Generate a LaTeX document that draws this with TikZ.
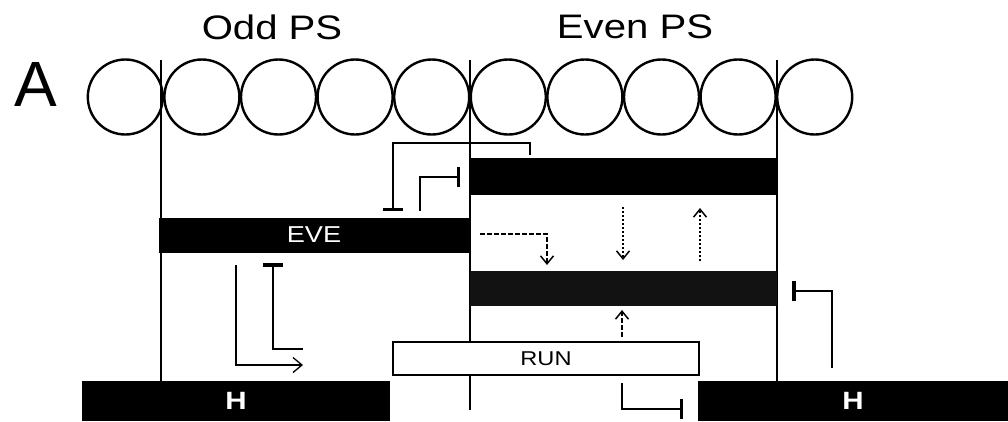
\documentclass[tikz,border=0pt]{standalone}
\usepackage{fontspec}
\setmainfont[FakeStretch=1.18]{Liberation Sans}
\newfontfamily\plainfont{Liberation Sans}
\usetikzlibrary{arrows.meta}
\tikzset{
  bead/.style={circle,draw,line width=2.4pt,minimum size=75pt,inner sep=0pt},
  guide/.style={line width=1.4pt},
  blackbar/.style={fill=black,draw=none,inner sep=0pt,text=white},
  graybar/.style={fill=black!93,draw=none,inner sep=0pt},
  openbar/.style={fill=white,draw=black,line width=2pt,inner sep=0pt},
  inh/.style={line width=2.6pt,-{Bar[width=20pt,line width=3.5pt]}},
  act/.style={line width=1.4pt,dash pattern=on 5pt off 2pt,-{Straight Barb[length=8pt,width=13pt,line width=1.5pt]}},
  dotact/.style={line width=1.2pt,dash pattern=on 2pt off 2pt,-{Straight Barb[length=8pt,width=13pt,line width=1.5pt]}},
  thinact/.style={line width=1.2pt,-{Straight Barb[length=9pt,width=15pt,line width=1.3pt]}},
  lbl/.style={font=\fontsize{34}{40}\selectfont,inner sep=0pt},
}
\begin{document}
\begin{tikzpicture}[x=1pt,y=-1pt]
\useasboundingbox (0,0) rectangle (1008,421);
% guide lines
\draw[guide] (161,60) coordinate (g1t) -- (161,381) coordinate (g1b);
\draw[guide] (470,60) coordinate (g2t) -- (470,410) coordinate (g2b);
\draw[guide] (777,60) coordinate (g3t) -- (777,382) coordinate (g3b);
% beads
\foreach \i in {0,...,9} {
  \node[bead] (c\i) at ({125.3+76.6*\i},97) {};
}
% labels
\node[lbl] (odd) at (272,27) {Odd PS};
\node[lbl] (evn) at (635,27) {Even PS};
\node[font=\plainfont\fontsize{64}{70}\selectfont,inner sep=0pt] (A) at (36,84) {A};
% bars
\node[blackbar,minimum width=307pt,minimum height=37pt] (even) at (623.5,176.5) {};
\node[blackbar,minimum width=310pt,minimum height=35pt,font=\fontsize{23}{26}\selectfont] (eve) at (314,235) {EVE};
\node[graybar,minimum width=307pt,minimum height=35pt] (gray) at (623.5,288.5) {};
\node[openbar,minimum width=306pt,minimum height=33pt,font=\fontsize{20}{24}\selectfont] (run) at (546,358.5) {RUN};
\node[blackbar,minimum width=308pt,minimum height=40pt,font=\bfseries\fontsize{25}{28}\selectfont] (hl) at (236,401) {H};
\node[blackbar,minimum width=310pt,minimum height=40pt,font=\bfseries\fontsize{25}{28}\selectfont] (hr) at (853,401) {H};
% connector end points
\coordinate (i1s) at (530,155);
\coordinate (i1e) at (393,211);
\coordinate (i2s) at (420,211);
\coordinate (i2e) at (460,177);
\coordinate (a1s) at (480,234);
\coordinate (a1e) at (547,265);
\coordinate (a2s) at (623,207);
\coordinate (a2e) at (623,260);
\coordinate (a3s) at (700,261);
\coordinate (a3e) at (700,208);
\coordinate (a4s) at (622,337);
\coordinate (a4e) at (622,310);
\coordinate (a5s) at (236,265);
\coordinate (a5e) at (303,365);
\coordinate (i3s) at (303,349);
\coordinate (i3e) at (273,263);
\coordinate (i4s) at (832,368);
\coordinate (i4e) at (792,291);
\coordinate (i5s) at (622,383);
\coordinate (i5e) at (683,409);
% inhibitors
\draw[inh] (i1s) -- ++(0,-12) -| (i1e);
\draw[inh] (i2s) |- (i2e);
\draw[inh] (i3s) -| (i3e);
\draw[inh] (i4s) |- (i4e);
\draw[inh] (i5s) |- (i5e);
% activations
\draw[act] (a1s) -| (a1e);
\draw[dotact] (a2s) -- (a2e);
\draw[dotact] (a3s) -- (a3e);
\draw[act] (a4s) -- (a4e);
\draw[thinact] (a5s) |- (a5e);
\end{tikzpicture}
\end{document}
